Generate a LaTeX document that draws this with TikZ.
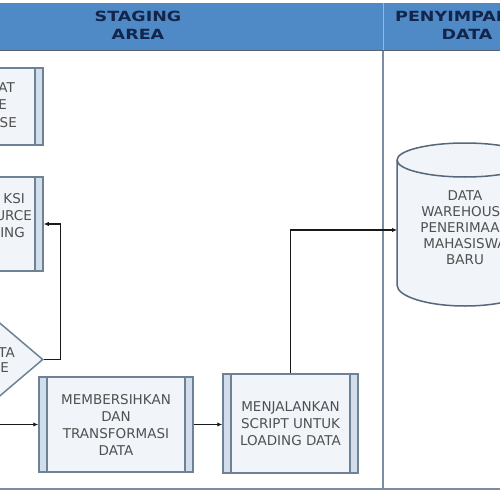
\documentclass[tikz,border=0pt]{standalone}
\usepackage{fontspec}
\setmainfont{DejaVu Sans}
\usetikzlibrary{shapes.geometric,arrows.meta}
\definecolor{hdrblue}{HTML}{4F89C6}
\definecolor{hdrtext}{HTML}{13254A}
\definecolor{laneline}{HTML}{7A8DA1}
\definecolor{boxline}{HTML}{6E8296}
\definecolor{boxfill}{HTML}{F1F4F9}
\definecolor{stripfill}{HTML}{D2DEEC}
\definecolor{txt}{HTML}{505050}
\definecolor{cylline}{HTML}{56687A}
\tikzset{
  hdr/.style={font=\fontsize{14}{18}\selectfont\bfseries, text=hdrtext, align=center, xscale=1.25},
  bodytxt/.style={font=\fontsize{13.5}{17}\selectfont, text=txt, align=center},
  frag/.style={font=\fontsize{13.5}{17}\selectfont, text=txt, anchor=base east, inner sep=0pt},
  procbox/.style={rectangle, draw=boxline, line width=1.5pt, fill=boxfill, inner sep=0pt,
    bodytxt,
    path picture={
      \fill[stripfill] (path picture bounding box.north west) rectangle ([xshift=8]path picture bounding box.south west);
      \fill[stripfill] ([xshift=-8]path picture bounding box.north east) rectangle (path picture bounding box.south east);
      \draw[boxline, line width=1.5pt] ([xshift=8]path picture bounding box.north west) -- ([xshift=8]path picture bounding box.south west);
      \draw[boxline, line width=1.5pt] ([xshift=-8]path picture bounding box.north east) -- ([xshift=-8]path picture bounding box.south east);
    }},
  decbox/.style={diamond, draw=boxline, line width=1.5pt, fill=boxfill, inner sep=0pt},
  conn/.style={line width=1.3pt, draw=black!90, -{Latex[length=5pt,width=4.5pt]}},
}
\begin{document}
\begin{tikzpicture}[x=1pt,y=-1pt]
\useasboundingbox (0,0) rectangle (500,500);
\clip (0,0) rectangle (500,500);
\fill[white] (0,0) rectangle (500,500);
% header band
\fill[hdrblue] (0,3) rectangle (500,50);
\draw[laneline!70!black, line width=1.8pt] (0,50.5) -- (500,50.5);
\draw[hdrblue!60!white, line width=1pt] (383,3) -- (383,50);
\draw[laneline, line width=1.8pt] (383,51) -- (383,489);
\draw[laneline, line width=1.8pt] (0,489) -- (500,489);
\node[hdr] (hstaging) at (138,25) {STAGING\\AREA};
\node[hdr] (hstore) at (467,25) {PENYIMPANAN\\DATA};

% left partial boxes
\node[procbox, minimum width=140, minimum height=77] (box1) at (-27,106.5) {};
\node[frag] (b1a) at (15,93) {AT};
\node[frag] (b1b) at (7,110) {E};
\node[frag] (b1c) at (17,128) {SE};

\node[procbox, minimum width=140, minimum height=94] (box2) at (-27,224) {};
\node[frag] (b2a) at (25,203) {KSI};
\node[frag] (b2b) at (32,220) {URCE};
\node[frag] (b2c) at (25,237) {ING};

\node[decbox, minimum width=140, minimum height=119] (dec) at (-27,359.5) {};
\node[frag] (d1) at (15,357) {TA};
\node[frag] (d2) at (9,372) {E};

% main boxes
\node[procbox, minimum width=154, minimum height=95] (box3) at (116,424.5)
  {MEMBERSIHKAN\\DAN\\TRANSFORMASI\\DATA};
\node[procbox, minimum width=135, minimum height=99] (box4) at (290.5,423.5)
  {MENJALANKAN\\SCRIPT UNTUK\\LOADING DATA};

% cylinder
\filldraw[fill=boxfill, draw=cylline, line width=1.5pt]
  (397,160) -- (397,285) arc[start angle=180, end angle=360, x radius=68pt, y radius=21pt]
  -- (533,160) arc[start angle=0, end angle=180, x radius=68pt, y radius=17pt] -- cycle;
\draw[cylline, line width=1.5pt] (397,160) arc[start angle=180, end angle=360, x radius=68pt, y radius=17pt];
\coordinate (cylw) at (397,230);
\node[bodytxt, font=\fontsize{13.5}{16}\selectfont] (dw) at (465,228)
  {DATA\\WAREHOUSE\\PENERIMAAN\\MAHASISWA\\BARU};

% connectors
\coordinate (inL) at (-10,424.5);
\draw[conn] (dec.east) -- ++(17,0) |- (box2.east);
\draw[conn] (inL) -- (box3.west);
\draw[conn] (box3.east) -- (box3.east -| box4.west);
\draw[conn] (box4.north) |- (cylw);
\end{tikzpicture}
\end{document}
